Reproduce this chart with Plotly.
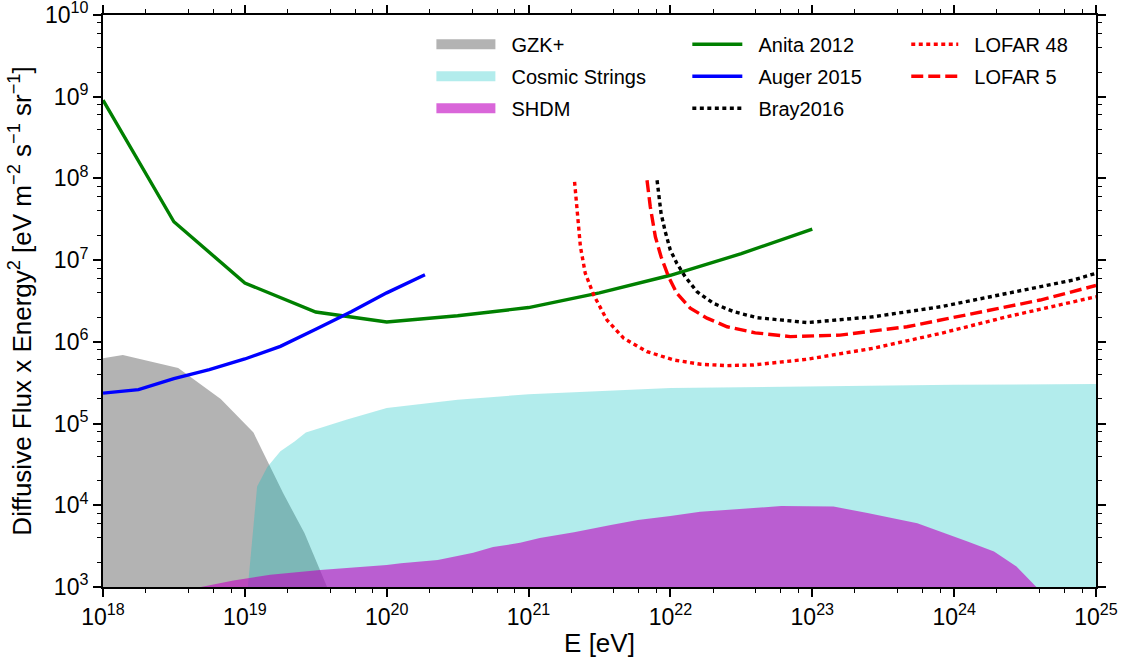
import plotly.graph_objects as go

# ---------------- data ----------------
gzk_E = [1e18, 1.38e18, 3.39e18, 6.76e18, 1.15e19, 1.86e19, 2.63e19, 3.8e19]
gzk_F = [6.31e5, 6.92e5, 4.79e5, 2.0e5, 7.76e4, 1.41e4, 4.57e3, 1e3]

cs_E = [1.05e19, 1.22e19, 1.44e19, 1.78e19, 2.24e19, 2.69e19, 5.25e19, 1e20,
        3.16e20, 1e21, 1e22, 1e23, 1e24, 1e25]
cs_F = [1e3, 1.7e4, 2.95e4, 4.57e4, 6.03e4, 7.76e4, 1.12e5, 1.55e5,
        1.95e5, 2.29e5, 2.72e5, 2.88e5, 2.99e5, 3.05e5]

shdm_E = [4.9e18, 8.32e18, 1.51e19, 3.39e19, 1e20, 1.26e20, 2.29e20, 4.07e20,
          5.62e20, 8.71e20, 1.2e21, 2.09e21, 3.8e21, 5.89e21, 1e22, 1.62e22,
          6.03e22, 1.41e23, 2.45e23, 5.5e23, 1.23e24, 1.91e24, 2.75e24, 3.8e24]
shdm_F = [1e3, 1.2e3, 1.41e3, 1.62e3, 1.86e3, 1.95e3, 2.14e3, 2.63e3,
          3.09e3, 3.47e3, 3.98e3, 4.68e3, 5.75e3, 6.61e3, 7.41e3, 8.32e3,
          9.77e3, 9.66e3, 8.04e3, 6.03e3, 3.63e3, 2.72e3, 1.78e3, 1e3]

anita_E = [1e18, 3.16e18, 1e19, 3.16e19, 1e20, 3.16e20, 1e21, 3.16e21,
           1e22, 3.16e22, 1e23]
anita_F = [9.06e8, 2.95e7, 5.25e6, 2.32e6, 1.75e6, 2.09e6, 2.63e6, 3.98e6,
           6.53e6, 1.2e7, 2.4e7]

auger_E = [1e18, 1.78e18, 3.16e18, 5.62e18, 1e19, 1.78e19, 3.16e19, 5.62e19,
           1e20, 1.86e20]
auger_F = [2.36e5, 2.6e5, 3.55e5, 4.57e5, 6.17e5, 8.81e5, 1.43e6, 2.34e6,
           3.98e6, 6.61e6]

bray_E = [8.05e21, 8.59e21, 9.2e21, 9.98e21, 1.11e22, 1.27e22, 1.54e22,
          2.01e22, 2.79e22, 4.07e22, 9.18e22, 2.7e23, 8.04e23, 2.36e24,
          6.93e24, 1e25]
bray_F = [9.5e7, 3.73e7, 2.22e7, 1.33e7, 9.14e6, 6.27e6, 4.11e6, 2.96e6,
          2.34e6, 1.98e6, 1.72e6, 2.03e6, 2.69e6, 3.93e6, 5.71e6, 6.9e6]

lofar48_E = [2.11e21, 2.2e21, 2.32e21, 2.51e21, 2.88e21, 3.57e21, 4.68e21,
             6.84e21, 1.05e22, 1.63e22, 2.51e22, 3.85e22, 9.18e22, 2.7e23,
             8.04e23, 2.36e24, 6.93e24, 1e25]
lofar48_F = [9.1e7, 3.73e7, 1.46e7, 6.9e6, 3.74e6, 1.85e6, 1.11e6, 7.59e5,
             6.01e5, 5.32e5, 5.12e5, 5.22e5, 6.12e5, 8.36e5, 1.27e6, 2.03e6,
             3.1e6, 3.57e6]

lofar5_E = [6.84e21, 7.21e21, 7.83e21, 8.59e21, 9.7e21, 1.11e22, 1.38e22,
            1.81e22, 2.51e22, 3.96e22, 7.0e22, 1.57e23, 4.65e23, 1.37e24,
            4.05e24, 1e25]
lofar5_F = [9.5e7, 4.5e7, 1.93e7, 1.1e7, 6.27e6, 3.93e6, 2.58e6, 1.95e6,
            1.53e6, 1.29e6, 1.16e6, 1.21e6, 1.53e6, 2.24e6, 3.25e6, 4.9e6]

x_tickvals = [1e18, 1e19, 1e20, 1e21, 1e22, 1e23, 1e24, 1e25]
x_ticktext = ["10<sup>18</sup>", "10<sup>19</sup>", "10<sup>20</sup>", "10<sup>21</sup>",
              "10<sup>22</sup>", "10<sup>23</sup>", "10<sup>24</sup>", "10<sup>25</sup>"]
y_tickvals = [1e3, 1e4, 1e5, 1e6, 1e7, 1e8, 1e9, 1e10]
y_ticktext = ["10<sup>3</sup>", "10<sup>4</sup>", "10<sup>5</sup>", "10<sup>6</sup>",
              "10<sup>7</sup>", "10<sup>8</sup>", "10<sup>9</sup>", "10<sup>10</sup>"]
minor_mults = [2, 4, 6, 8]
x_minor = [m * 10.0 ** e for e in range(18, 25) for m in minor_mults]
y_minor = [m * 10.0 ** e for e in range(3, 10) for m in minor_mults]

FLOOR = 1e3  # bottom of the y axis, fills close onto it

GRAY = "rgba(128,128,128,0.6)"
CYAN = "rgba(0,191,191,0.3)"
MAG = "rgba(191,0,191,0.6)"

FONT = "Liberation Sans"
NB = "\u00a0\u00a0"

fig = go.Figure()

# filled regions
fig.add_trace(go.Scatter(x=[gzk_E[0]] + gzk_E, y=[FLOOR] + gzk_F, fill="toself",
                         fillcolor=GRAY, line=dict(width=0), mode="lines",
                         showlegend=False, hoverinfo="skip"))
fig.add_trace(go.Scatter(x=cs_E + [cs_E[-1]], y=cs_F + [FLOOR], fill="toself",
                         fillcolor=CYAN, line=dict(width=0), mode="lines",
                         showlegend=False, hoverinfo="skip"))
fig.add_trace(go.Scatter(x=shdm_E, y=shdm_F, fill="toself",
                         fillcolor=MAG, line=dict(width=0), mode="lines",
                         showlegend=False, hoverinfo="skip"))

# legend proxies for the fills
for i, (name, col) in enumerate([("GZK+", GRAY), ("Cosmic Strings", CYAN), ("SHDM", MAG)]):
    fig.add_trace(go.Scatter(x=[None], y=[None], mode="lines", name=NB + name,
                             line=dict(color=col, width=13), legend="legend",
                             legendgroup="a%d" % i))

# limit lines
lines = [
    ("Anita 2012", anita_E, anita_F, "rgb(0,128,0)", "solid", "legend2"),
    ("Auger 2015", auger_E, auger_F, "rgb(0,0,255)", "solid", "legend2"),
    ("Bray2016", bray_E, bray_F, "black", "4px,3.5px", "legend2"),
    ("LOFAR 48", lofar48_E, lofar48_F, "rgb(255,0,0)", "4px,3.5px", "legend3"),
    ("LOFAR 5", lofar5_E, lofar5_F, "rgb(255,0,0)", "12px,5px", "legend3"),
]
for i, (name, xs, ys, col, dash, lg) in enumerate(lines):
    fig.add_trace(go.Scatter(x=xs, y=ys, mode="lines", name=NB + name,
                             line=dict(color=col, width=3.4, dash=dash),
                             legend=lg, legendgroup="b%d" % i))

W, H = 1127, 664
L, R, T, B = 102.5, 31.2, 14.7, 76.7
PW, PH = W - L - R, H - T - B


def px2paper_x(px):
    return (px - L) / PW


def px2paper_y(py):
    return 1 - (py - T) / PH


leg_common = dict(xanchor="left", yanchor="top",
                  bgcolor="rgba(0,0,0,0)", borderwidth=0,
                  font=dict(family=FONT, size=20, color="black"),
                  traceorder="grouped", tracegroupgap=3)

fig.update_layout(
    width=W, height=H,
    margin=dict(l=L, r=R, t=T, b=B, autoexpand=False),
    paper_bgcolor="white", plot_bgcolor="white",
    font=dict(family=FONT, size=23, color="black"),
    legend=dict(x=px2paper_x(438 - 7), y=px2paper_y(24.5), itemwidth=59, **leg_common),
    legend2=dict(x=px2paper_x(693 - 6), y=px2paper_y(24.5), itemwidth=50, **leg_common),
    legend3=dict(x=px2paper_x(912 - 6), y=px2paper_y(24.5), itemwidth=47, **leg_common),
)

axis_common = dict(type="log", showgrid=False, zeroline=False, showline=True,
                   linecolor="black", linewidth=2, mirror="allticks",
                   ticks="outside", ticklen=8, tickwidth=1.5, tickcolor="black",
                   ticklabeloverflow="allow",
                   tickfont=dict(family=FONT, size=23, color="black"))

fig.update_xaxes(range=[18, 25], tickmode="array", tickvals=x_tickvals, ticktext=x_ticktext,
                 minor=dict(tickmode="array", tickvals=x_minor, ticks="outside",
                            ticklen=4, tickwidth=1, tickcolor="black"),
                 title=dict(text="E [eV]", font=dict(family=FONT, size=26, color="black"),
                            standoff=5),
                 **axis_common)
fig.update_yaxes(range=[3, 10], tickmode="array", tickvals=y_tickvals, ticktext=y_ticktext,
                 minor=dict(tickmode="array", tickvals=y_minor, ticks="outside",
                            ticklen=4, tickwidth=1, tickcolor="black"),
                 title=dict(text="Diffusive Flux x Energy<sup>2</sup> [eV m<sup>\u22122</sup> "
                                 "s<sup>\u22121</sup> sr<sup>\u22121</sup>]",
                            font=dict(family=FONT, size=26, color="black"), standoff=6),
                 **axis_common)

# remove the default page margin so the figure sits at the window origin
fig.write_html("out.html",
               config={"displayModeBar": False},
               post_script="document.body.style.margin='0';")
